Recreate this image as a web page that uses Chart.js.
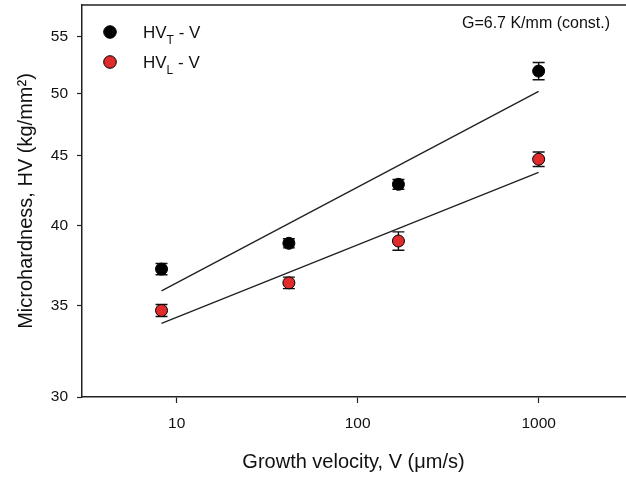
<!DOCTYPE html>
<html>
<head>
<meta charset="utf-8">
<script src="https://cdn.jsdelivr.net/npm/chart.js@4"></script>
<style>
html, body { margin: 0; padding: 0; background: #fff; }
canvas { display: block; }
</style>
</head>
<body>
<canvas id="hv-chart" width="626" height="477"></canvas>
<script>
// growth velocity V (um/s)
var velocity = [8.25, 41.7, 168, 1000];
// microhardness, transverse (HV_T) and longitudinal (HV_L)
var hvT = [37.2, 38.85, 42.9, 51.9];
var hvTErr = [0.35, 0.3, 0.35, 0.75];
var hvL = [34.7, 36.35, 39.0, 44.75];
var hvLErr = [0.35, 0.35, 0.6, 0.55];
// fitted lines, values at first and last velocity
var fitV = [8.25, 1000];
var fitT = [35.86, 50.16];
var fitL = [33.95, 43.77];
// axis ticks
var xTicks = [10, 100, 1000];
var yTicks = [30, 35, 40, 45, 50, 55];

var RED = '#e02b2b';
var FONT = "'Liberation Sans', Arial, sans-serif";

function pts(xs, ys) {
  return xs.map(function (x, i) { return { x: x, y: ys[i] }; });
}

var errorBars = {
  id: 'errorBars',
  beforeDatasetsDraw: function (chart) {
    var ctx = chart.ctx, xs = chart.scales.x, ys = chart.scales.y;
    var sets = [[hvT, hvTErr], [hvL, hvLErr]];
    ctx.save();
    ctx.strokeStyle = '#111';
    ctx.lineWidth = 1.4;
    sets.forEach(function (s) {
      velocity.forEach(function (v, i) {
        var px = xs.getPixelForValue(v);
        var top = ys.getPixelForValue(s[0][i] + s[1][i]);
        var bot = ys.getPixelForValue(s[0][i] - s[1][i]);
        ctx.beginPath();
        ctx.moveTo(px, top); ctx.lineTo(px, bot);
        ctx.moveTo(px - 6, top); ctx.lineTo(px + 6, top);
        ctx.moveTo(px - 6, bot); ctx.lineTo(px + 6, bot);
        ctx.stroke();
      });
    });
    ctx.restore();
  }
};

var extras = {
  id: 'extras',
  afterDraw: function (chart) {
    var ctx = chart.ctx, a = chart.chartArea;
    ctx.save();
    // top frame line
    ctx.strokeStyle = '#222';
    ctx.lineWidth = 1.5;
    ctx.beginPath();
    ctx.moveTo(a.left, a.top); ctx.lineTo(a.right + 2, a.top);
    ctx.stroke();

    // legend
    var rows = [['T', '#000'], ['L', RED]];
    rows.forEach(function (r, i) {
      var cy = a.top + 27 + i * 30;
      var cx = a.left + 28;
      ctx.beginPath();
      ctx.arc(cx, cy, 6.3, 0, Math.PI * 2);
      ctx.fillStyle = r[1];
      ctx.fill();
      ctx.lineWidth = 1;
      ctx.strokeStyle = '#000';
      ctx.stroke();

      ctx.fillStyle = '#111';
      ctx.textBaseline = 'alphabetic';
      ctx.textAlign = 'left';
      var x = a.left + 61, base = cy + 6;
      ctx.font = '17px ' + FONT;
      ctx.fillText('HV', x, base);
      x += ctx.measureText('HV').width;
      ctx.font = '12px ' + FONT;
      ctx.fillText(r[0], x, base + 6);
      x += ctx.measureText(r[0]).width;
      ctx.font = '17px ' + FONT;
      ctx.fillText(' - V', x, base);
    });

    // annotation
    ctx.font = '16px ' + FONT;
    ctx.textAlign = 'right';
    ctx.fillStyle = '#111';
    ctx.fillText('G=6.7 K/mm (const.)', a.right - 15, a.top + 23);
    ctx.restore();
  }
};

new Chart(document.getElementById('hv-chart').getContext('2d'), {
  type: 'scatter',
  data: {
    datasets: [
      {
        label: 'fit T',
        data: pts(fitV, fitT),
        showLine: true,
        borderColor: '#222',
        borderWidth: 1.4,
        pointRadius: 0
      },
      {
        label: 'fit L',
        data: pts(fitV, fitL),
        showLine: true,
        borderColor: '#222',
        borderWidth: 1.4,
        pointRadius: 0
      },
      {
        label: 'HVT - V',
        data: pts(velocity, hvT),
        backgroundColor: '#000',
        borderColor: '#000',
        borderWidth: 1,
        pointRadius: 6
      },
      {
        label: 'HVL - V',
        data: pts(velocity, hvL),
        backgroundColor: RED,
        borderColor: '#000',
        borderWidth: 1,
        pointRadius: 6
      }
    ]
  },
  options: {
    responsive: false,
    animation: false,
    devicePixelRatio: 1,
    layout: { autoPadding: false, padding: { top: 5, right: 1, left: 0, bottom: 0 } },
    plugins: { legend: { display: false }, tooltip: { enabled: false } },
    scales: {
      x: {
        type: 'logarithmic',
        min: 3,
        max: 3000,
        afterBuildTicks: function (s) { s.ticks = xTicks.map(function (v) { return { value: v }; }); },
        afterFit: function (s) {
          s.height = 80;
          s.paddingLeft = 0; s.paddingRight = 0;
        },
        grid: { drawOnChartArea: false, tickLength: 6, color: '#222', tickWidth: 1.2 },
        border: { color: '#222', width: 1.5 },
        ticks: {
          color: '#111',
          padding: 11,
          maxRotation: 0,
          font: { family: FONT, size: 15.5 },
          callback: function (v) { return String(v); }
        },
        title: {
          display: true,
          text: 'Growth velocity, V (\u03bcm/s)',
          color: '#111',
          font: { family: FONT, size: 20 },
          padding: { top: 0, bottom: 3 }
        }
      },
      y: {
        type: 'logarithmic',
        min: 30,
        max: 58,
        afterBuildTicks: function (s) { s.ticks = yTicks.map(function (v) { return { value: v }; }); },
        afterFit: function (s) {
          s.width = 82;
          s.paddingTop = 0; s.paddingBottom = 0;
        },
        grid: { drawOnChartArea: false, tickLength: 5, color: '#222', tickWidth: 1.2 },
        border: { color: '#222', width: 1.5 },
        ticks: {
          color: '#111',
          padding: 9,
          font: { family: FONT, size: 15.5 },
          callback: function (v) { return String(v); }
        },
        title: {
          display: true,
          text: 'Microhardness, HV (kg/mm\u00b2)',
          color: '#111',
          font: { family: FONT, size: 20 },
          padding: { top: 14, bottom: 0 }
        }
      }
    }
  },
  plugins: [errorBars, extras]
});
</script>
</body>
</html>
